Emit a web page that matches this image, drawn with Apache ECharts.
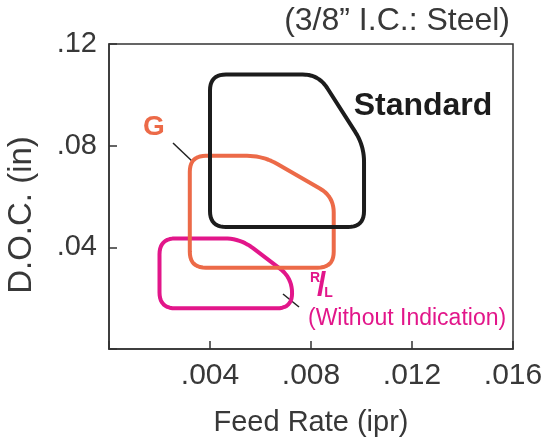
<!DOCTYPE html>
<html>
<head>
<meta charset="utf-8">
<script src="https://cdn.jsdelivr.net/npm/echarts@6/dist/echarts.min.js"></script>
<style>html,body{margin:0;padding:0;background:#fff}#c{width:550px;height:442px}</style>
</head>
<body>
<div id="c"></div>
<script>
// ---- data ----
const xTicks = [0.004, 0.008, 0.012, 0.016];
const xTickLabels = ['.004', '.008', '.012', '.016'];
const yTicks = [0.04, 0.08, 0.12];
const yTickLabels = ['.04', '.08', '.12'];
const standardShape = [[0.0040,0.048],[0.0040,0.108],[0.0083,0.108],[0.0101,0.080],[0.0101,0.048]];
const gShape = [[0.0032,0.032],[0.0032,0.076],[0.0061,0.076],[0.0089,0.060],[0.0089,0.032]];
const rlShape = [[0.0020,0.016],[0.0020,0.0435],[0.0052,0.0435],[0.00725,0.028],[0.00725,0.016]];

const FONT = '"Liberation Sans", Arial, Helvetica, sans-serif';
const TXT = '#383838';

function lookup(v, ticks, labels) {
  for (let i = 0; i < ticks.length; i++) if (Math.abs(v - ticks[i]) < 1e-9) return labels[i];
  return '';
}

function roundedPoints(pts, r) {
  const n = pts.length, out = [];
  for (let i = 0; i < n; i++) {
    const p0 = pts[(i - 1 + n) % n], p1 = pts[i], p2 = pts[(i + 1) % n];
    const l1 = Math.hypot(p0[0]-p1[0], p0[1]-p1[1]);
    const l2 = Math.hypot(p2[0]-p1[0], p2[1]-p1[1]);
    const rr = Math.min(r, l1/2, l2/2);
    const a = [p1[0] + (p0[0]-p1[0])/l1*rr, p1[1] + (p0[1]-p1[1])/l1*rr];
    const b = [p1[0] + (p2[0]-p1[0])/l2*rr, p1[1] + (p2[1]-p1[1])/l2*rr];
    const N = 10;
    for (let k = 0; k <= N; k++) {
      const t = k / N, u = 1 - t;
      out.push([u*u*a[0] + 2*u*t*p1[0] + t*t*b[0], u*u*a[1] + 2*u*t*p1[1] + t*t*b[1]]);
    }
  }
  return out;
}

function shapeSeries(shape, color) {
  return {
    type: 'custom',
    data: shape,
    silent: true,
    renderItem: function (params, api) {
      if (params.dataIndex !== 0) return null;
      const px = shape.map(p => api.coord(p));
      return {
        type: 'polygon',
        shape: { points: roundedPoints(px, 16) },
        style: { fill: 'none', stroke: color, lineWidth: 4, lineJoin: 'round' }
      };
    }
  };
}

const chart = echarts.init(document.getElementById('c'));
chart.setOption({
  animation: false,
  backgroundColor: '#fff',
  grid: { left: 109, right: 37, top: 44, bottom: 93, show: true, borderColor: '#333', borderWidth: 1.5, backgroundColor: 'transparent' },
  xAxis: {
    type: 'value', min: 0, max: 0.016, interval: 0.004,
    splitLine: { show: false },
    axisLine: { show: true, lineStyle: { color: '#333', width: 1.5 } },
    axisTick: { show: true, inside: true, length: 8, lineStyle: { color: '#333', width: 1.5 } },
    axisLabel: { color: TXT, fontSize: 30, fontFamily: FONT, margin: 12,
      formatter: v => lookup(v, xTicks, xTickLabels) }
  },
  yAxis: {
    type: 'value', min: 0, max: 0.12, interval: 0.04,
    splitLine: { show: false },
    axisLine: { show: true, lineStyle: { color: '#333', width: 1.5 } },
    axisTick: { show: true, inside: true, length: 8, lineStyle: { color: '#333', width: 1.5 } },
    axisLabel: { color: TXT, fontSize: 29, fontFamily: FONT, margin: 12,
      formatter: v => lookup(v, yTicks, yTickLabels) }
  },
  series: [
    shapeSeries(rlShape, '#E2168A'),
    shapeSeries(gShape, '#EC6A48'),
    shapeSeries(standardShape, '#1c1c1c')
  ],
  graphic: [
    { type: 'text', style: { text: '(3/8\u201D I.C.: Steel)', x: 510, y: 21, textAlign: 'right', textVerticalAlign: 'middle', fontSize: 32, fontFamily: FONT, fill: TXT } },
    { type: 'text', style: { text: 'Feed Rate (ipr)', x: 311, y: 423, textAlign: 'center', textVerticalAlign: 'middle', fontSize: 29, fontFamily: FONT, fill: TXT } },
    { type: 'text', rotation: Math.PI / 2, x: 22, y: 215, style: { text: 'D.O.C. (in)', x: 0, y: 0, textAlign: 'center', textVerticalAlign: 'middle', fontSize: 33, fontFamily: FONT, fill: TXT } },
    { type: 'text', style: { text: 'Standard', x: 423, y: 106, textAlign: 'center', textVerticalAlign: 'middle', fontSize: 32, fontWeight: 'bold', fontFamily: FONT, fill: '#1c1c1c' } },
    { type: 'text', style: { text: 'G', x: 154, y: 127, textAlign: 'center', textVerticalAlign: 'middle', fontSize: 28, fontWeight: 'bold', fontFamily: FONT, fill: '#EC6A48' } },
    { type: 'line', shape: { x1: 173, y1: 143, x2: 193, y2: 162 }, style: { stroke: '#222', lineWidth: 1.5 } },
    { type: 'text', style: { text: 'R', x: 315, y: 278, textAlign: 'center', textVerticalAlign: 'middle', fontSize: 14, fontWeight: 'bold', fontFamily: FONT, fill: '#E2168A' } },
    { type: 'text', style: { text: '/', x: 321.5, y: 286, textAlign: 'center', textVerticalAlign: 'middle', fontSize: 33, fontWeight: 'bold', fontFamily: FONT, fill: '#E2168A' } },
    { type: 'text', style: { text: 'L', x: 328.5, y: 293, textAlign: 'center', textVerticalAlign: 'middle', fontSize: 14, fontWeight: 'bold', fontFamily: FONT, fill: '#E2168A' } },
    { type: 'line', shape: { x1: 283, y1: 294, x2: 299, y2: 307 }, style: { stroke: '#222', lineWidth: 1.5 } },
    { type: 'text', style: { text: '(Without Indication)', x: 308, y: 319, textAlign: 'left', textVerticalAlign: 'middle', fontSize: 23, fontFamily: FONT, fill: '#E2168A' } }
  ]
});
</script>
</body>
</html>
